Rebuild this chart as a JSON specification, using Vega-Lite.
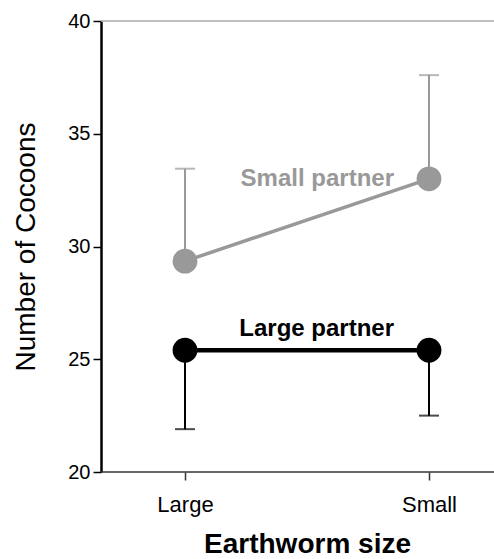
{
  "$schema": "https://vega.github.io/schema/vega-lite/v6.json",
  "width": 393,
  "height": 451,
  "padding": {"left": 101, "top": 21, "right": 0, "bottom": 87},
  "autosize": {"type": "none"},
  "config": {
    "font": "Liberation Sans",
    "view": {"stroke": null}
  },
  "data": {
    "values": [
      {"size": "Large", "partner": "Small partner", "mean": 29.35, "err": 33.45},
      {"size": "Small", "partner": "Small partner", "mean": 33.0, "err": 37.6},
      {"size": "Large", "partner": "Large partner", "mean": 25.4, "err": 21.9},
      {"size": "Small", "partner": "Large partner", "mean": 25.4, "err": 22.5}
    ]
  },
  "encoding": {
    "x": {
      "field": "size",
      "type": "nominal",
      "sort": ["Large", "Small"],
      "scale": {"type": "point", "range": [84, 328], "padding": 0},
      "axis": {
        "title": "Earthworm size",
        "titleFontSize": 28,
        "titleFontWeight": "bold",
        "titleColor": "black",
        "titlePadding": 15,
        "labelFontSize": 22,
        "labelColor": "black",
        "labelAngle": 0,
        "labelPadding": 14,
        "domain": false,
        "tickColor": "#333333",
        "tickWidth": 1.5,
        "tickSize": 8,
        "grid": false
      }
    }
  },
  "layer": [
    {
      "data": {"values": [{}]},
      "mark": {"type": "rule", "strokeWidth": 1.5, "color": "#aaaaaa"},
      "encoding": {
        "x": null,
        "y": {"datum": 40, "type": "quantitative"}
      }
    },
    {
      "data": {"values": [{}]},
      "mark": {"type": "rule", "strokeWidth": 1.5, "color": "#333333"},
      "encoding": {
        "x": null,
        "y": {"datum": 20, "type": "quantitative"}
      }
    },
    {
      "mark": {"type": "rule", "strokeWidth": 2},
      "encoding": {
        "y": {
          "field": "mean",
          "type": "quantitative",
          "scale": {"domain": [20, 40], "nice": false, "zero": false},
          "axis": {
            "title": "Number of Cocoons",
            "titleFontSize": 28,
            "titleFontWeight": "normal",
            "titleColor": "black",
            "titlePadding": 27,
            "values": [20, 25, 30, 35, 40],
            "labelFontSize": 20,
            "labelColor": "black",
            "labelPadding": 3,
            "domainColor": "black",
            "domainWidth": 2.5,
            "tickColor": "black",
            "tickWidth": 1.5,
            "tickSize": 8,
            "grid": false
          }
        },
        "y2": {"field": "err"},
        "color": {
          "field": "partner",
          "type": "nominal",
          "scale": {"domain": ["Small partner", "Large partner"], "range": ["#999999", "#000000"]},
          "legend": null
        }
      }
    },
    {
      "mark": {"type": "tick", "thickness": 2, "size": 20, "orient": "horizontal"},
      "encoding": {
        "y": {"field": "err", "type": "quantitative"},
        "color": {"field": "partner", "type": "nominal", "legend": null}
      }
    },
    {
      "mark": {"type": "line"},
      "encoding": {
        "y": {"field": "mean", "type": "quantitative"},
        "color": {"field": "partner", "type": "nominal", "legend": null},
        "strokeWidth": {
          "field": "partner",
          "type": "nominal",
          "scale": {"domain": ["Small partner", "Large partner"], "range": [3.5, 4.5]},
          "legend": null
        }
      }
    },
    {
      "mark": {"type": "point", "shape": "circle", "filled": true, "opacity": 1, "size": 615},
      "encoding": {
        "y": {"field": "mean", "type": "quantitative"},
        "color": {"field": "partner", "type": "nominal", "legend": null}
      }
    },
    {
      "transform": [{"filter": "datum.size === 'Small' && datum.partner === 'Small partner'"}],
      "mark": {"type": "text", "align": "right", "baseline": "middle", "dx": -35, "dy": 0, "fontSize": 24, "fontWeight": "bold"},
      "encoding": {
        "y": {"field": "mean", "type": "quantitative"},
        "text": {"field": "partner"},
        "color": {"field": "partner", "type": "nominal", "legend": null}
      }
    },
    {
      "transform": [{"filter": "datum.size === 'Small' && datum.partner === 'Large partner'"}],
      "mark": {"type": "text", "align": "right", "baseline": "middle", "dx": -35, "dy": -21, "fontSize": 24, "fontWeight": "bold"},
      "encoding": {
        "y": {"field": "mean", "type": "quantitative"},
        "text": {"field": "partner"},
        "color": {"field": "partner", "type": "nominal", "legend": null}
      }
    }
  ]
}
